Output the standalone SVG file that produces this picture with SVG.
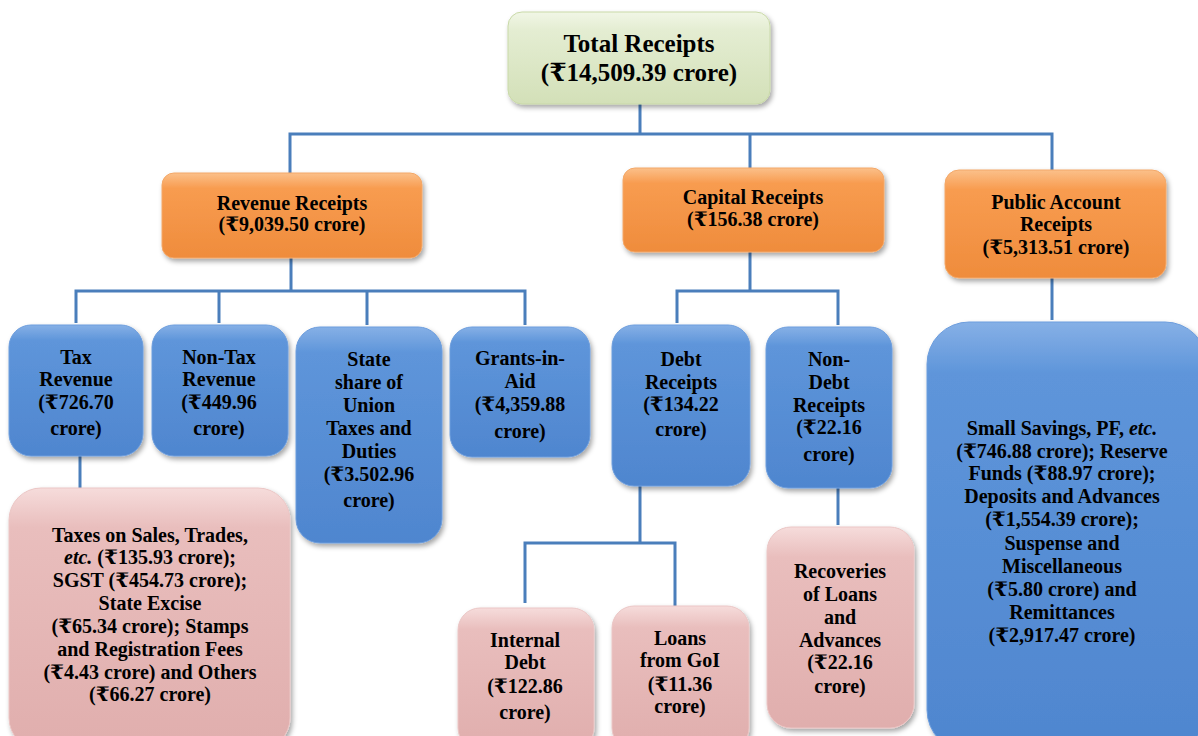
<svg xmlns="http://www.w3.org/2000/svg" width="1198" height="736" viewBox="0 0 1198 736">
<defs>
<linearGradient id="gGreen" x1="0" y1="0" x2="0" y2="1">
<stop offset="0" stop-color="#f1f6e6"/><stop offset="0.2" stop-color="#e4edd2"/><stop offset="1" stop-color="#d3e0b8"/>
</linearGradient>
<linearGradient id="gOrange" x1="0" y1="0" x2="0" y2="1">
<stop offset="0" stop-color="#fbc08a"/><stop offset="0.18" stop-color="#f89c50"/><stop offset="1" stop-color="#ef8c3c"/>
</linearGradient>
<linearGradient id="gBlue" x1="0" y1="0" x2="0" y2="1">
<stop offset="0" stop-color="#86b0e6"/><stop offset="0.12" stop-color="#5e95da"/><stop offset="1" stop-color="#4f86cf"/>
</linearGradient>
<linearGradient id="gPink" x1="0" y1="0" x2="0" y2="1">
<stop offset="0" stop-color="#f6dcdb"/><stop offset="0.15" stop-color="#e9bebd"/><stop offset="1" stop-color="#e0aead"/>
</linearGradient>
<filter id="sh" x="-10%" y="-10%" width="125%" height="125%">
<feDropShadow dx="2" dy="3" stdDeviation="2.5" flood-color="#000" flood-opacity="0.35"/>
</filter>
</defs>
<style>
.t{font-family:"Liberation Serif","DejaVu Serif",serif;font-weight:bold;font-size:20px;fill:#000;text-anchor:middle}
.big{font-size:25px}
.green{fill:url(#gGreen);stroke:#c9d9a8;stroke-width:1;filter:url(#sh)}
.orange{fill:url(#gOrange);stroke:#f3a868;stroke-width:1;filter:url(#sh)}
.blue{fill:url(#gBlue);stroke:#6c9ddd;stroke-width:1;filter:url(#sh)}
.pink{fill:url(#gPink);stroke:#ebc6c5;stroke-width:1;filter:url(#sh)}
.c{fill:none;stroke:#4a7ebb;stroke-width:3}
</style>
<rect width="1198" height="736" fill="#fff"/>

<g id="connectors">
<path class="c" d="M640 104V134M290 173V134H1052V170M750 134V168"/>
<path class="c" d="M291 258V291M76 323V291H525V325M219 291V323M367 291V325"/>
<path class="c" d="M750 252V291M677 323V291H838V325"/>
<path class="c" d="M1052 278V320"/>
<path class="c" d="M80 456V488"/>
<path class="c" d="M640 486V543M525 603V543H675V607"/>
<path class="c" d="M838 488V525"/>
</g>

<g id="total">
<rect class="green" x="508" y="12" width="262" height="92" rx="14"/>
<text class="t big" x="639" y="52">Total Receipts</text>
<text class="t big" x="639" y="81">(₹14,509.39 crore)</text>
</g>

<g id="revenue">
<rect class="orange" x="162" y="173" width="260" height="85" rx="12"/>
<text class="t" x="292" y="210">Revenue Receipts</text>
<text class="t" x="292" y="231">(₹9,039.50 crore)</text>
</g>

<g id="capital">
<rect class="orange" x="623" y="168" width="261" height="84" rx="12"/>
<text class="t" x="753" y="204">Capital Receipts</text>
<text class="t" x="753" y="226">(₹156.38 crore)</text>
</g>

<g id="public">
<rect class="orange" x="945" y="170" width="221" height="108" rx="14"/>
<text class="t" x="1056" y="209">Public Account</text>
<text class="t" x="1056" y="231">Receipts</text>
<text class="t" x="1056" y="254">(₹5,313.51 crore)</text>
</g>

<g id="tax">
<rect class="blue" x="9" y="325" width="134" height="131" rx="22"/>
<text class="t" x="76" y="364">Tax</text>
<text class="t" x="76" y="386">Revenue</text>
<text class="t" x="76" y="409">(₹726.70</text>
<text class="t" x="76" y="435">crore)</text>
</g>

<g id="nontax">
<rect class="blue" x="152" y="325" width="136" height="131" rx="22"/>
<text class="t" x="219" y="364">Non-Tax</text>
<text class="t" x="219" y="386">Revenue</text>
<text class="t" x="219" y="409">(₹449.96</text>
<text class="t" x="219" y="435">crore)</text>
</g>

<g id="stateshare">
<rect class="blue" x="296" y="327" width="146" height="216" rx="24"/>
<text class="t" x="369" y="366">State</text>
<text class="t" x="369" y="389">share of</text>
<text class="t" x="369" y="412">Union</text>
<text class="t" x="369" y="435">Taxes and</text>
<text class="t" x="369" y="458">Duties</text>
<text class="t" x="369" y="481">(₹3.502.96</text>
<text class="t" x="369" y="507">crore)</text>
</g>

<g id="grants">
<rect class="blue" x="450" y="327" width="140" height="130" rx="22"/>
<text class="t" x="520" y="365">Grants-in-</text>
<text class="t" x="520" y="388">Aid</text>
<text class="t" x="520" y="411">(₹4,359.88</text>
<text class="t" x="520" y="438">crore)</text>
</g>

<g id="debt">
<rect class="blue" x="612" y="325" width="138" height="161" rx="22"/>
<text class="t" x="681" y="366">Debt</text>
<text class="t" x="681" y="389">Receipts</text>
<text class="t" x="681" y="411">(₹134.22</text>
<text class="t" x="681" y="436">crore)</text>
</g>

<g id="nondebt">
<rect class="blue" x="766" y="327" width="126" height="161" rx="22"/>
<text class="t" x="829" y="366">Non-</text>
<text class="t" x="829" y="389">Debt</text>
<text class="t" x="829" y="412">Receipts</text>
<text class="t" x="829" y="434">(₹22.16</text>
<text class="t" x="829" y="461">crore)</text>
</g>

<g id="publicsub">
<rect class="blue" x="927" y="322" width="280" height="430" rx="42"/>
<text class="t" x="1062" y="435">Small Savings, PF, <tspan font-style="italic">etc.</tspan></text>
<text class="t" x="1062" y="458">(₹746.88 crore); Reserve</text>
<text class="t" x="1062" y="480">Funds (₹88.97 crore);</text>
<text class="t" x="1062" y="503">Deposits and Advances</text>
<text class="t" x="1062" y="526">(₹1,554.39 crore);</text>
<text class="t" x="1062" y="550">Suspense and</text>
<text class="t" x="1062" y="573">Miscellaneous</text>
<text class="t" x="1062" y="596">(₹5.80 crore) and</text>
<text class="t" x="1062" y="619">Remittances</text>
<text class="t" x="1062" y="642">(₹2,917.47 crore)</text>
</g>

<g id="taxsub">
<rect class="pink" x="9" y="488" width="281" height="262" rx="32"/>
<text class="t" x="150" y="542">Taxes on Sales, Trades,</text>
<text class="t" x="150" y="564"><tspan font-style="italic">etc.</tspan> (₹135.93 crore);</text>
<text class="t" x="150" y="587">SGST (₹454.73 crore);</text>
<text class="t" x="150" y="610">State Excise</text>
<text class="t" x="150" y="633">(₹65.34 crore); Stamps</text>
<text class="t" x="150" y="656">and Registration Fees</text>
<text class="t" x="150" y="679">(₹4.43 crore) and Others</text>
<text class="t" x="150" y="701">(₹66.27 crore)</text>
</g>

<g id="internaldebt">
<rect class="pink" x="458" y="608" width="136" height="142" rx="22"/>
<text class="t" x="525" y="647">Internal</text>
<text class="t" x="525" y="669">Debt</text>
<text class="t" x="525" y="693">(₹122.86</text>
<text class="t" x="525" y="719">crore)</text>
</g>

<g id="loans">
<rect class="pink" x="612" y="606" width="137" height="144" rx="22"/>
<text class="t" x="680" y="645">Loans</text>
<text class="t" x="680" y="667">from GoI</text>
<text class="t" x="680" y="691">(₹11.36</text>
<text class="t" x="680" y="713">crore)</text>
</g>

<g id="recoveries">
<rect class="pink" x="767" y="527" width="147" height="201" rx="24"/>
<text class="t" x="840" y="578">Recoveries</text>
<text class="t" x="840" y="601">of Loans</text>
<text class="t" x="840" y="624">and</text>
<text class="t" x="840" y="647">Advances</text>
<text class="t" x="840" y="669">(₹22.16</text>
<text class="t" x="840" y="693">crore)</text>
</g>
</svg>
